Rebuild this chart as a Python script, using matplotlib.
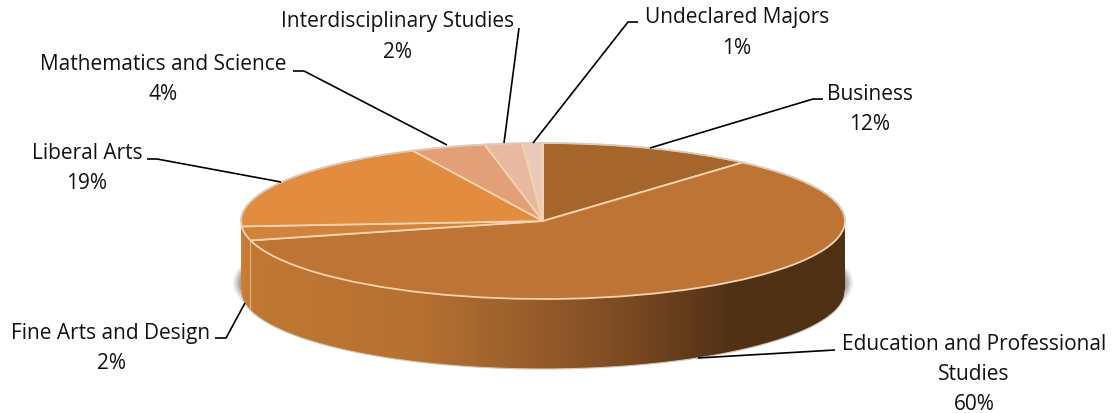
#
#   Imports
#

import numpy as np
import matplotlib
matplotlib.use("Agg")
import matplotlib.pyplot as plt
from matplotlib.colors import LinearSegmentedColormap
from matplotlib.patches import Ellipse, Polygon

#
#   Data
#

# Going clockwise from 12 o'clock
categories = ["Business", "Education and Professional\nStudies", "Fine Arts and Design",
              "Liberal Arts", "Mathematics and Science", "Interdisciplinary Studies",
              "Undeclared Majors"]
percent_labels = ["12%", "60%", "2%", "19%", "4%", "2%", "1%"]
shares = [11.5, 59.5, 2.9, 19.0, 4.0, 2.0, 1.1]

#
#   Constants
#

W, H = 1112, 414
CX, CY = 543, 222   # pie center, pixels
RX, RY = 302, 78    # top ellipse radii, pixels
DEPTH = 70 / RY     # thickness of the pie, in pie units

slice_colors = ["#A5652B", "#BD7434", "#CF833B", "#E28C40", "#E3A078", "#E8B8A0", "#EAC9BA"]
EDGE = "#F6D3AE"

# center x, y of the first line of each label, pixels
label_pos = [(870, 95), (974, 345), (111, 334), (87, 154), (163, 65), (398, 22), (737, 18)]
leaders = [
    [(823, 100), (813, 100), (650, 149)],
    [(835, 351), (698, 359)],
    [(215, 339), (226, 339), (245, 304)],
    [(147, 160), (157, 160), (281, 183)],
    [(293, 72), (304, 72), (447, 146)],
    [(519, 29), (504, 144)],
    [(638, 23), (628, 23), (533, 144)],
]

# Horizontal shading of the side, position in pie units -> color
side_stops = [(-1.0, "#CC7F39"), (-0.97, "#C07833"), (-0.4, "#B67031"), (-0.1, "#9C612C"),
              (0.1, "#8C5527"), (0.3, "#784822"), (0.5, "#5F3A1A"), (0.62, "#523216"),
              (1.0, "#4E3015")]

#
#   Main
#

plt.rcParams["font.family"] = ["Open Sans", "DejaVu Sans"]

fig = plt.figure(figsize=(W / 100, H / 100), dpi=100)
ax = fig.add_axes([0, 0, 1, 1])

# Shadow behind the lower part
for grow, alpha in [(8, 0.15), (6, 0.2), (4, 0.3), (2, 0.4)]:
    ax.add_patch(Ellipse((0, -62 / RY), 2 * (RX + grow) / RX, 2 * (RY + grow - 10) / RY,
                         fc="#808080", ec="none", alpha=alpha, zorder=1))

# Side of the pie, a gradient clipped to the extruded lower half
theta = np.linspace(np.pi, 2 * np.pi, 300)
xs, ys = np.cos(theta), np.sin(theta)
outline = np.concatenate([np.column_stack([xs, ys]), np.column_stack([xs, ys - DEPTH])[::-1]])
side = Polygon(outline, closed=True, fc="none", ec="none", zorder=2)
ax.add_patch(side)

cmap = LinearSegmentedColormap.from_list(
    "side", [((x + 1) / 2, c) for x, c in side_stops], N=512)
grad = ax.imshow(np.linspace(0, 1, 512)[None, :], cmap=cmap, aspect="auto",
                 extent=(-1, 1, -1 - DEPTH, 0.2), zorder=2, interpolation="bilinear")
grad.set_clip_path(side)

# Pale rim under the side, and the seam where the education slice ends
ax.plot(xs, ys - DEPTH, color="#DCC4AE", lw=0.8, zorder=3)
seam = np.radians(90 - 3.6 * (shares[0] + shares[1]))
ax.plot([np.cos(seam)] * 2, [np.sin(seam), np.sin(seam) - DEPTH], color="#E9B27E", lw=0.8, zorder=3)

# Top of the pie
wedges, _ = ax.pie(shares, colors=slice_colors, startangle=90, counterclock=False, radius=1,
                   wedgeprops={"edgecolor": EDGE, "linewidth": 1.3, "zorder": 4})
for w in wedges:
    w.set_zorder(4)

# Gray rim along the back
back = np.linspace(0, np.pi, 200)
ax.plot(np.cos(back), np.sin(back), color="#CFCBC8", lw=1.0, zorder=5)

ax.set_aspect("auto")
ax.set_xlim(-CX / RX, (W - CX) / RX)
ax.set_ylim((CY - H) / RY, CY / RY)
ax.axis("off")

# Labels and leader lines are placed in pixels on a second axes
top = fig.add_axes([0, 0, 1, 1], facecolor="none")
top.set_xlim(0, W)
top.set_ylim(H, 0)
top.axis("off")

for points in leaders:
    top.plot(*zip(*points), color="black", lw=1.2, solid_capstyle="butt", zorder=6)

for name, pct, (x, y) in zip(categories, percent_labels, label_pos):
    lines = name.split("\n") + [pct]
    for i, line in enumerate(lines):
        top.text(x, y + i * 30, line, ha="center", va="center", fontsize=15, color="#111111")

fig.savefig("out.png", dpi=100)
